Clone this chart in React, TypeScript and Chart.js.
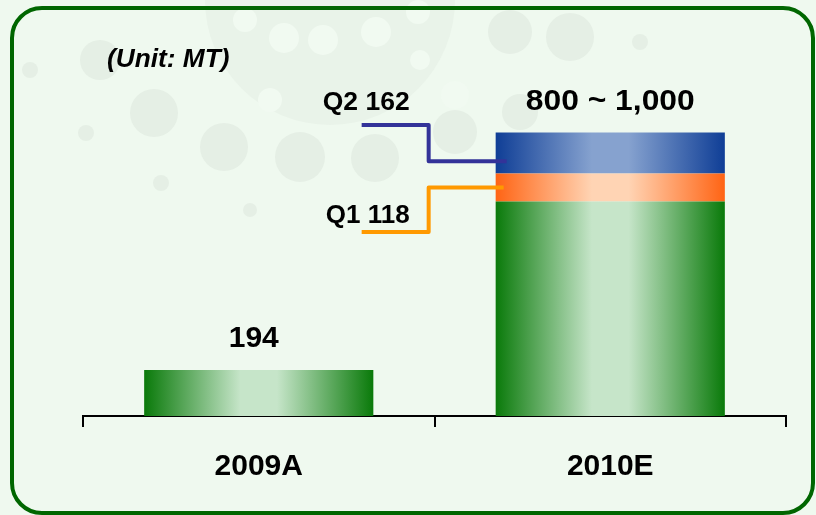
import React, { useEffect, useRef } from "react";
import { Chart, registerables } from "chart.js";

Chart.register(...registerables);

const categories = ["2009A", "2010E"];
const baseValues = [194, 905];
const q1Values = [0, 118];
const q2Values = [0, 172];
const topLabels = ["194", "800 ~ 1,000"];
const q1Label = "Q1 118";
const q2Label = "Q2 162";
const unitLabel = "(Unit: MT)";

const BAR_PCT = 0.652;
const FONT = "'Liberation Sans', Arial, Helvetica, sans-serif";

const GREEN = ["#0a7a0a", "#c6e5c9"];
const ORANGE = ["#ff6414", "#ffd4b4"];
const BLUE = ["#0f3e96", "#86a2cf"];

function barGradient(ctx: any, pair: string[]) {
  const chart = ctx.chart;
  const xs = chart.scales && chart.scales.x;
  if (ctx.dataIndex === undefined || !xs || !chart.chartArea) return pair[0];
  const cx = xs.getPixelForValue(ctx.dataIndex);
  const w = (xs.width / categories.length) * BAR_PCT;
  const g = chart.ctx.createLinearGradient(cx - w / 2, 0, cx + w / 2, 0);
  g.addColorStop(0, pair[0]);
  g.addColorStop(0.42, pair[1]);
  g.addColorStop(0.58, pair[1]);
  g.addColorStop(1, pair[0]);
  return g;
}

function drawText(c: CanvasRenderingContext2D, t: string, x: number, y: number, font: string, align: CanvasTextAlign, sx = 1) {
  c.save();
  c.font = font;
  c.fillStyle = "#000";
  c.textAlign = align;
  c.textBaseline = "alphabetic";
  c.translate(x, y);
  c.scale(sx, 1);
  c.fillText(t, 0, 0);
  c.restore();
}

const bgPlugin = {
  id: "bg",
  beforeDraw(chart: any) {
    const c: CanvasRenderingContext2D = chart.ctx;
    const W = chart.width, H = chart.height;
    c.save();
    c.fillStyle = "#eff9ef";
    c.fillRect(0, 0, W, H);
    // faint decorative blob
    c.fillStyle = "#e9f3e9";
    c.beginPath();
    c.arc(330, 0, 125, 0, Math.PI * 2);
    c.fill();
    c.fillStyle = "#e5efe5";
    const dark = [
      [154, 113, 24], [224, 147, 24], [300, 157, 25], [375, 158, 24],
      [455, 132, 22], [520, 112, 18], [86, 133, 8], [161, 183, 8], [250, 210, 7],
      [30, 70, 8], [640, 42, 8], [570, 37, 24], [510, 32, 22], [100, 60, 20],
    ];
    for (const [x, y, r] of dark) {
      c.beginPath();
      c.arc(x, y, r, 0, Math.PI * 2);
      c.fill();
    }
    c.fillStyle = "#f1faf1";
    const light = [
      [245, 20, 12], [284, 38, 15], [323, 40, 15], [376, 32, 15], [418, 12, 12],
      [455, 95, 14], [270, 100, 12], [420, 60, 10],
    ];
    for (const [x, y, r] of light) {
      c.beginPath();
      c.arc(x, y, r, 0, Math.PI * 2);
      c.fill();
    }
    // frame
    c.strokeStyle = "#006600";
    c.lineWidth = 4;
    c.beginPath();
    (c as any).roundRect(12, 8, 801, 505, 30);
    c.stroke();
    c.restore();
  },
};

const annoPlugin = {
  id: "anno",
  afterDatasetsDraw(chart: any) {
    const c: CanvasRenderingContext2D = chart.ctx;
    const xs = chart.scales.x, ys = chart.scales.y;
    const w = (xs.width / categories.length) * BAR_PCT;
    categories.forEach((_, i) => {
      const total = baseValues[i] + q1Values[i] + q2Values[i];
      const cx = xs.getPixelForValue(i);
      const top = ys.getPixelForValue(total);
      const off = i === 0 ? -5 : 0;
      drawText(c, topLabels[i], cx + off, top - 23, `bold 30px ${FONT}`, "center", i === 0 ? 1 : 1.06);
    });
    drawText(c, unitLabel, 107, 67, `italic bold 25px ${FONT}`, "left", 1.05);
    const i = 1;
    const left = xs.getPixelForValue(i) - w / 2;
    const yQ1 = ys.getPixelForValue(baseValues[i] + q1Values[i] * 0.5);
    const yQ2 = ys.getPixelForValue(baseValues[i] + q1Values[i] + q2Values[i] * 0.3);
    c.save();
    c.lineWidth = 4;
    c.lineJoin = "round";
    c.strokeStyle = "#333399";
    c.beginPath();
    c.moveTo(left - 134, 125);
    c.lineTo(left - 67, 125);
    c.lineTo(left - 67, yQ2);
    c.lineTo(left + 11, yQ2);
    c.stroke();
    c.strokeStyle = "#ff9900";
    c.beginPath();
    c.moveTo(left - 134, 232);
    c.lineTo(left - 67, 232);
    c.lineTo(left - 67, yQ1);
    c.lineTo(left + 8, yQ1);
    c.stroke();
    c.restore();
    drawText(c, q2Label, left - 86, 110, `bold 25px ${FONT}`, "right", 1.06);
    drawText(c, q1Label, left - 86, 223, `bold 25px ${FONT}`, "right", 1.04);
  },
};

export default function App() {
  const ref = useRef<HTMLCanvasElement>(null);
  useEffect(() => {
    if (!ref.current) return;
    const chart = new Chart(ref.current, {
      type: "bar",
      data: {
        labels: categories,
        datasets: [
          { label: "base", data: baseValues, backgroundColor: (ctx: any) => barGradient(ctx, GREEN) },
          { label: "Q1", data: q1Values, backgroundColor: (ctx: any) => barGradient(ctx, ORANGE) },
          { label: "Q2", data: q2Values, backgroundColor: (ctx: any) => barGradient(ctx, BLUE) },
        ],
      },
      options: {
        responsive: false,
        animation: false,
        devicePixelRatio: 1,
        layout: { padding: { left: 83, right: 30, top: 84, bottom: 8 } },
        plugins: { legend: { display: false }, tooltip: { enabled: false } },
        datasets: { bar: { barPercentage: BAR_PCT, categoryPercentage: 1, borderWidth: 0 } },
        scales: {
          x: {
            stacked: true,
            offset: true,
            grid: { offset: true, drawOnChartArea: false, drawTicks: true, tickLength: 11, color: "#000", lineWidth: 2 },
            border: { display: true, color: "#000", width: 2 },
            ticks: { color: "#000", padding: 22, font: { family: FONT, size: 30, weight: "bold" } },
          },
          y: { stacked: true, display: false, min: 0, max: 1400 },
        },
      },
      plugins: [bgPlugin, annoPlugin],
    } as any);
    return () => chart.destroy();
  }, []);
  return (
    <div style={{ position: "fixed", left: 0, top: 0, width: 816, height: 515 }}>
      <canvas ref={ref} width={816} height={515} />
    </div>
  );
}
